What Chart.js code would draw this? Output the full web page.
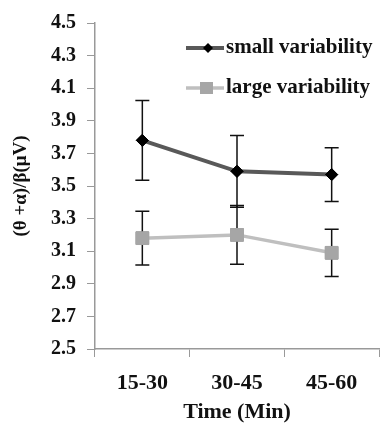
<!DOCTYPE html>
<html>
<head>
<meta charset="utf-8">
<script src="https://cdn.jsdelivr.net/npm/chart.js@4.4.0/dist/chart.umd.min.js"></script>
<style>
  html, body { margin: 0; padding: 0; background: #fff; }
  #c { display: block; }
</style>
</head>
<body>
<canvas id="c" width="389" height="427"></canvas>
<script>
var categories = ['15-30', '30-45', '45-60'];
var smallVals = [3.78, 3.59, 3.57];
var smallErr = [0.245, 0.22, 0.165];
var largeVals = [3.18, 3.20, 3.09];
var largeErr = [0.165, 0.18, 0.145];
var yTicks = [2.5, 2.7, 2.9, 3.1, 3.3, 3.5, 3.7, 3.9, 4.1, 4.3, 4.5];

var serif = '"Liberation Serif", "Times New Roman", serif';

// error bars drawn through the y scale
var errorBars = {
  id: 'errorBars',
  afterDatasetsDraw: function (chart) {
    var ctx = chart.ctx;
    var y = chart.scales.y;
    var errs = [smallErr, largeErr];
    ctx.save();
    ctx.strokeStyle = '#111';
    ctx.lineWidth = 1.5;
    chart.data.datasets.forEach(function (ds, i) {
      var meta = chart.getDatasetMeta(i);
      meta.data.forEach(function (pt, j) {
        var v = ds.data[j], e = errs[i][j];
        var top = y.getPixelForValue(v + e);
        var bot = y.getPixelForValue(v - e);
        ctx.beginPath();
        ctx.moveTo(pt.x, top); ctx.lineTo(pt.x, bot);
        ctx.moveTo(pt.x - 7, top); ctx.lineTo(pt.x + 7, top);
        ctx.moveTo(pt.x - 7, bot); ctx.lineTo(pt.x + 7, bot);
        ctx.stroke();
      });
    });
    // markers back on top of the bars
    chart.data.datasets.forEach(function (ds, i) {
      chart.getDatasetMeta(i).data.forEach(function (pt) { pt.draw(ctx, chart.chartArea); });
    });
    ctx.restore();
  }
};

// legend inside the plot, top right
var innerLegend = {
  id: 'innerLegend',
  afterDraw: function (chart) {
    var ctx = chart.ctx;
    var rows = [48, 88];
    ctx.save();
    chart.data.datasets.forEach(function (ds, i) {
      var yy = rows[i];
      ctx.strokeStyle = ds.borderColor;
      ctx.lineWidth = ds.borderWidth;
      ctx.beginPath();
      ctx.moveTo(186, yy); ctx.lineTo(224, yy);
      ctx.stroke();
      ctx.fillStyle = ds.pointBackgroundColor;
      ctx.beginPath();
      if (i === 0) {
        ctx.moveTo(208, yy - 5); ctx.lineTo(213, yy); ctx.lineTo(208, yy + 5); ctx.lineTo(203, yy);
      } else {
        ctx.rect(200, yy - 6, 13, 12);
      }
      ctx.closePath();
      ctx.fill();
      ctx.fillStyle = '#111';
      ctx.font = 'bold 21px ' + serif;
      ctx.textBaseline = 'middle';
      ctx.fillText(ds.label, 226, yy);
    });
    ctx.restore();
  }
};

new Chart(document.getElementById('c').getContext('2d'), {
  type: 'line',
  data: {
    labels: categories,
    datasets: [{
      label: 'small variability',
      data: smallVals,
      borderColor: '#595959',
      borderWidth: 4,
      pointStyle: 'rectRot',
      pointRadius: 6,
      pointBackgroundColor: '#000',
      pointBorderColor: '#000',
      pointBorderWidth: 1,
      tension: 0
    }, {
      label: 'large variability',
      data: largeVals,
      borderColor: '#bfbfbf',
      borderWidth: 3.5,
      pointStyle: 'rect',
      pointRadius: 9,
      pointBackgroundColor: '#a6a6a6',
      pointBorderColor: '#a6a6a6',
      pointBorderWidth: 1,
      tension: 0
    }]
  },
  options: {
    responsive: false,
    animation: false,
    layout: { padding: { top: 14, right: 1, left: 10, bottom: 0 } },
    plugins: { legend: { display: false }, tooltip: { enabled: false } },
    scales: {
      x: {
        offset: true,
        afterFit: function (s) { s.height = 78; },
        grid: { offset: true, drawOnChartArea: false, tickLength: 8, color: '#999' },
        border: { color: '#999', width: 1.5 },
        ticks: { color: '#111', font: { family: serif, size: 22, weight: 'bold', lineHeight: 1 }, padding: 15 },
        title: { display: true, text: 'Time (Min)', color: '#111', font: { family: serif, size: 22, weight: 'bold', lineHeight: 1 }, padding: { top: 4, bottom: 4 } }
      },
      y: {
        min: 2.5,
        max: 4.5,
        afterBuildTicks: function (s) { s.ticks = yTicks.map(function (v) { return { value: v }; }); },
        afterFit: function (s) { s.width = 85; },
        grid: { drawOnChartArea: false, tickLength: 8, color: '#999' },
        border: { color: '#999', width: 1.5 },
        ticks: {
          color: '#111',
          font: { family: serif, size: 20, weight: 'bold' },
          padding: 11,
          callback: function (v) { return v.toFixed(1); }
        },
        title: { display: true, text: '(θ +α)/β(μV)', color: '#111', font: { family: serif, size: 19, weight: 'bold' }, padding: 0 }
      }
    }
  },
  plugins: [errorBars, innerLegend]
});
</script>
</body>
</html>
